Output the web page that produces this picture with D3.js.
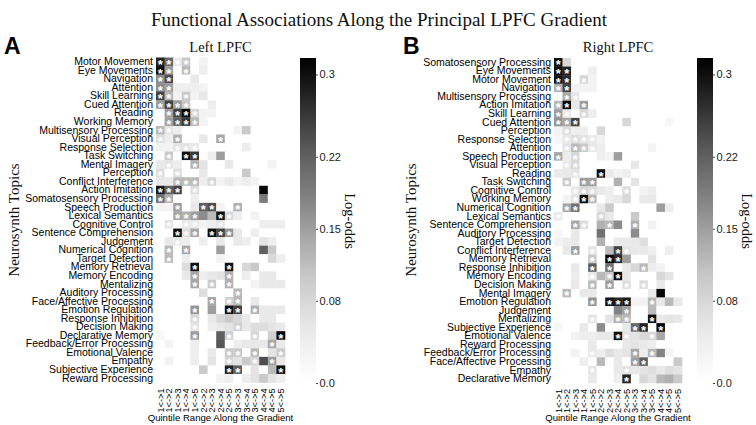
<!DOCTYPE html>
<html><head><meta charset="utf-8">
<script src="https://cdn.jsdelivr.net/npm/d3@7"></script>
<style>body{margin:0;background:#fff}svg{display:block}</style>
</head><body>
<svg id="c" width="756" height="425"></svg>
<script>
const quintileRanges = ["1<->1","1<->2","1<->3","1<->4","1<->5","2<->2","2<->3","2<->4","2<->5","3<->3","3<->4","3<->5","4<->4","4<->5","5<->5"];
const colorbarTicks = [0, 0.08, 0.15, 0.22, 0.3];
const colorbarTickLabels = ["0.0","0.08","0.15","0.22","0.3"];
const logOddsMax = 0.316;

const leftTopics = ["Motor Movement","Eye Movements","Navigation","Attention","Skill Learning","Cued Attention","Reading","Working Memory","Multisensory Processing","Visual Perception","Response Selection","Task Switching","Mental Imagery","Perception","Conflict Interference","Action Imitation","Somatosensory Processing","Speech Production","Lexical Semantics","Cognitive Control","Sentence Comprehension","Judgement","Numerical Cognition","Target Detection","Memory Retrieval","Memory Encoding","Mentalizing","Auditory Processing","Face/Affective Processing","Emotion Regulation","Response Inhibition","Decision Making","Declarative Memory","Feedback/Error Processing","Emotional Valence","Empathy","Subjective Experience","Reward Processing"];
const leftValues = [
[0.28,0.21,0.05,0.10,0,0.03,0,0,0,0,0,0,0,0,0],
[0.30,0.15,0,0.12,0,0.04,0,0,0,0,0,0,0,0,0],
[0.17,0.24,0,0,0.05,0,0,0,0,0,0,0,0,0,0],
[0.17,0.15,0.04,0.04,0.04,0.03,0,0,0,0,0,0,0,0,0],
[0.25,0.12,0.03,0.10,0.03,0.05,0,0,0,0,0,0,0,0,0],
[0.15,0.25,0.15,0.10,0,0,0.04,0,0,0,0,0,0,0,0],
[0,0.15,0.25,0.31,0.08,0.03,0.03,0,0,0,0,0,0,0,0],
[0,0.15,0.22,0.26,0.12,0.03,0,0,0,0,0,0,0,0,0],
[0.12,0.06,0.04,0,0,0,0,0,0,0.03,0.10,0,0,0,0],
[0.07,0.04,0.13,0,0,0.05,0,0.14,0,0,0,0,0,0,0],
[0.03,0.03,0.06,0.06,0.05,0,0,0,0,0,0.04,0,0,0,0],
[0,0.10,0,0.30,0.26,0,0.04,0.15,0,0,0,0,0,0,0],
[0.05,0.06,0.04,0,0.13,0.06,0,0,0.05,0,0,0,0,0.03,0],
[0.07,0,0.07,0,0,0.05,0,0,0,0,0.10,0,0,0,0],
[0.05,0.05,0.12,0.12,0.12,0.04,0.08,0.03,0.05,0.03,0.04,0.03,0,0,0],
[0.29,0.22,0.25,0,0.07,0,0,0,0,0,0,0,0.31,0,0],
[0.20,0.13,0,0,0.04,0,0,0,0,0,0,0,0.19,0,0],
[0.03,0.03,0.15,0,0.05,0.22,0.24,0.03,0,0.13,0,0,0,0,0],
[0,0,0.14,0.13,0.15,0.17,0.12,0.30,0.08,0.04,0,0.03,0,0,0],
[0,0.06,0,0.05,0.05,0.03,0.04,0.06,0,0,0,0,0.04,0.04,0.04],
[0,0,0.30,0.07,0.14,0,0.30,0.25,0.16,0.05,0,0.04,0,0,0],
[0,0.05,0.05,0.04,0,0.04,0,0.05,0,0.05,0.04,0,0.06,0.04,0],
[0,0.12,0,0.14,0,0,0,0.15,0,0,0,0,0.22,0.10,0],
[0,0.12,0,0.04,0,0,0,0.03,0,0,0,0,0,0.08,0.04],
[0,0,0,0.07,0.30,0,0,0,0.30,0,0.08,0.10,0,0,0],
[0,0,0,0.05,0.14,0.04,0.05,0.06,0.13,0,0.04,0,0.05,0.05,0],
[0,0,0,0,0.14,0,0.10,0,0.13,0,0,0.03,0.05,0.05,0.05],
[0,0,0,0,0,0.07,0,0,0,0.12,0,0,0,0,0],
[0,0,0,0,0,0,0.14,0,0.09,0.12,0,0.05,0,0,0],
[0,0,0,0,0.16,0,0.15,0,0.30,0.25,0,0.13,0.05,0.05,0.05],
[0,0,0,0,0.08,0,0.05,0.08,0.10,0.08,0.05,0,0.05,0.05,0],
[0,0,0,0,0.06,0,0.04,0.05,0.06,0.09,0.05,0.07,0.07,0.06,0.05],
[0.02,0,0,0,0.15,0,0,0.22,0.09,0,0,0.08,0,0.09,0.31],
[0,0.03,0,0,0.04,0,0,0.23,0,0.04,0.05,0.05,0.05,0.14,0.05],
[0,0,0,0,0.04,0,0.05,0,0.10,0.10,0,0.12,0,0.06,0.10],
[0,0.03,0,0,0.04,0,0.06,0,0.08,0.06,0.10,0.08,0.24,0.15,0.05],
[0,0,0,0,0,0.10,0,0,0.28,0.22,0,0.06,0,0.12,0.30],
[0,0,0,0,0,0,0,0.03,0.04,0,0.04,0.06,0.10,0.06,0.04]
];
const leftStars = [[0,1,2,3],[0,1,3],[0,1],[0,1],[0,1,3],[0,1,2,3],[1,2,3,4],[1,2,3,4],[0,1],[0,2,7],[2,3,4],[1,3,4],[1,4],[0,2],[2,3,4,6],[0,1,2,4],[0,1],[2,5,6,9],[2,3,4,7,8],[1,3,4,7],[2,3,4,6,7,8],[2],[1,3],[1],[4,8],[4,8],[4,6,8],[9],[6,8,9],[4,8,9,11],[4],[4,9],[4,8,11,14],[13],[8,9,11,14],[8,11,13],[8,9,14],[]];

const rightTopics = ["Somatosensory Processing","Eye Movements","Motor Movement","Navigation","Multisensory Processing","Action Imitation","Skill Learning","Cued Attention","Perception","Response Selection","Attention","Speech Production","Visual Perception","Reading","Task Switching","Cognitive Control","Working Memory","Numerical Cognition","Lexical Semantics","Sentence Comprehension","Auditory Processing","Target Detection","Conflict Interference","Memory Retrieval","Response Inhibition","Memory Encoding","Decision Making","Mental Imagery","Emotion Regulation","Judgement","Mentalizing","Subjective Experience","Emotional Valence","Reward Processing","Feedback/Error Processing","Face/Affective Processing","Empathy","Declarative Memory"];
const rightValues = [
[0.30,0.08,0,0,0,0,0,0,0,0,0,0,0,0,0],
[0.30,0.28,0,0,0.04,0,0,0,0,0,0,0,0,0,0],
[0.30,0.27,0,0.08,0.03,0,0,0,0,0,0,0,0,0,0],
[0.13,0.25,0.03,0.03,0.03,0,0,0,0,0,0,0,0,0,0],
[0,0.14,0.06,0,0,0,0,0,0,0,0,0,0,0,0],
[0.12,0.31,0.05,0.15,0,0,0,0,0,0,0,0,0,0,0],
[0.15,0.05,0,0.08,0.04,0,0,0,0,0,0,0,0,0,0],
[0.16,0.14,0.25,0,0,0,0,0,0.08,0,0,0,0,0.02,0],
[0.03,0.07,0.04,0.04,0,0.08,0,0,0,0,0,0,0,0,0],
[0.02,0.05,0.07,0.06,0.05,0.03,0,0,0,0,0,0,0,0,0],
[0,0.06,0.12,0.10,0.05,0.04,0,0,0,0,0,0.03,0,0,0],
[0.14,0.04,0.08,0,0,0.04,0.03,0.15,0,0,0,0,0,0,0],
[0,0.05,0.08,0,0,0,0,0,0,0.05,0,0,0,0,0],
[0.05,0.05,0.06,0,0,0.30,0.05,0.03,0.04,0,0,0,0,0,0],
[0,0.10,0,0.15,0.15,0,0,0.13,0,0.06,0,0,0,0,0],
[0,0,0.05,0.08,0.07,0.05,0.04,0,0.07,0,0.03,0.04,0,0,0],
[0,0.03,0.06,0.30,0.12,0,0.04,0.05,0.08,0,0.05,0.05,0,0,0],
[0,0.14,0.20,0,0,0.05,0.10,0,0,0,0,0,0.15,0.04,0],
[0.05,0,0,0,0,0.08,0.05,0,0,0.10,0,0,0,0,0],
[0,0,0.14,0.07,0,0.13,0.12,0.17,0,0.13,0,0.03,0,0,0],
[0.02,0,0.05,0,0,0.20,0,0,0,0.17,0,0,0,0,0],
[0.03,0.04,0.05,0,0,0.13,0,0.05,0.05,0.05,0.07,0,0,0,0],
[0,0.05,0.15,0,0.06,0,0.12,0.25,0.06,0.05,0.05,0.04,0,0.04,0],
[0,0,0,0,0.10,0,0.31,0.27,0.15,0,0,0.06,0,0,0],
[0,0,0.05,0,0.22,0,0.20,0,0.05,0.08,0.12,0.04,0.03,0,0],
[0,0,0.04,0,0.05,0.12,0.10,0.31,0.05,0,0,0,0.08,0.06,0],
[0,0,0.05,0,0.12,0,0.15,0,0.07,0,0.07,0,0.05,0,0],
[0,0.12,0,0.05,0.05,0,0,0,0,0,0,0.05,0.31,0,0],
[0,0,0,0,0.16,0,0.30,0.28,0.29,0.03,0.03,0.12,0.05,0.12,0.05],
[0,0,0,0,0,0,0,0.18,0.15,0,0,0.12,0,0,0],
[0,0,0,0,0.06,0,0.06,0.13,0.12,0,0,0.30,0.05,0.06,0.05],
[0.02,0,0,0.05,0,0.17,0,0,0.05,0.21,0.28,0,0.31,0,0],
[0,0,0.03,0.04,0.04,0.05,0.05,0.30,0.06,0.06,0.08,0.08,0.14,0,0],
[0,0,0,0,0.05,0,0,0,0.05,0.06,0.05,0.04,0,0,0],
[0,0,0.03,0,0.05,0.04,0.07,0.05,0.06,0.14,0.04,0.12,0.18,0.03,0],
[0,0,0,0.04,0,0.12,0,0.05,0,0.15,0.22,0,0,0,0.10],
[0,0,0,0,0.06,0,0,0.05,0.06,0.05,0.06,0.07,0.05,0.07,0.06],
[0,0,0,0,0.05,0,0,0.04,0.28,0,0.08,0.06,0.12,0.13,0.10]
];
const rightStars = [[0],[0,1],[0,1,3],[0,1],[1,2],[0,1,3],[0,1,3],[0,1,2],[1],[1,2,3,4],[1,2,3,4],[0,2],[1,2],[2,5],[1,3,4],[2,3,4,8],[2,3,4],[1,2],[0,5],[2,3,6,9],[],[],[2,4,7,8],[4,6,7],[4,6,10],[4,6,7],[4,6,8,10],[1],[4,6,7,8,11],[8],[4,7,8,11],[9,10,12],[7,8,11],[],[4,9,11],[9,10],[4,8],[8]];

const svg = d3.select("#c");
const color = d3.scaleSequential(d3.interpolateGreys).domain([0, logOddsMax]);
const serif = "'Liberation Serif', 'Times New Roman', serif";
const sans = "'Liberation Sans', Arial, sans-serif";

svg.append("text").attr("x", 379).attr("y", 26).attr("text-anchor","middle")
  .attr("font-family", serif).attr("font-size", 19).attr("fill","#111")
  .text("Functional Associations Along the Principal LPFC Gradient");

const panels = [
  {letter:"A", lx:4, title:"Left LPFC", topics:leftTopics, values:leftValues, stars:leftStars, gx:156, gy:57.5, gw:129, gh:325, cbx:300, ytx:14},
  {letter:"B", lx:403, title:"Right LPFC", topics:rightTopics, values:rightValues, stars:rightStars, gx:554, gy:58, gw:128, gh:325, cbx:697, ytx:411}
];

panels.forEach((p, pi) => {
  const g = svg.append("g");
  const x = d3.scaleBand().domain(quintileRanges).range([p.gx, p.gx + p.gw]);
  const y = d3.scaleBand().domain(p.topics).range([p.gy, p.gy + p.gh]);

  g.append("text").attr("x", p.lx).attr("y", 54).attr("font-family", sans).attr("font-weight","bold")
    .attr("font-size", 23).text(p.letter);
  g.append("text").attr("x", p.gx + p.gw/2).attr("y", 52).attr("text-anchor","middle")
    .attr("font-family", serif).attr("font-size", 14.5).attr("fill","#111").text(p.title);

  const cells = [];
  p.values.forEach((row, ri) => row.forEach((v, ci) => cells.push({t:p.topics[ri], q:quintileRanges[ci], v, s:p.stars[ri].includes(ci)})));

  g.selectAll("rect.cell").data(cells).join("rect").attr("class","cell")
    .attr("x", d => x(d.q)).attr("y", d => y(d.t))
    .attr("width", x.bandwidth() + 0.3).attr("height", y.bandwidth() + 0.3)
    .attr("fill", d => color(d.v));

  g.selectAll("text.star").data(cells.filter(d => d.s)).join("text").attr("class","star")
    .attr("x", d => x(d.q) + x.bandwidth()/2).attr("y", d => y(d.t) + y.bandwidth()/2 + 7.2)
    .attr("text-anchor","middle").attr("font-family", sans).attr("font-weight","bold")
    .attr("font-size", 13).attr("fill","#fff").text("*");

  const ya = g.append("g").attr("transform", `translate(${p.gx},0)`)
    .call(d3.axisLeft(y).tickSize(0).tickPadding(3));
  ya.select(".domain").remove();
  ya.selectAll("text").attr("font-family", sans).attr("font-size", 10.5).attr("fill","#000");

  const xa = g.append("g").attr("transform", `translate(0,${p.gy + p.gh})`)
    .call(d3.axisBottom(x).tickSize(0).tickPadding(0));
  xa.select(".domain").remove();
  xa.selectAll(".tick text").attr("font-family", sans).attr("font-size", 9.2).attr("fill","#000")
    .attr("text-anchor","end").attr("dy","0.35em").attr("x", 0).attr("y", 0)
    .attr("transform", "rotate(-90) translate(-6,0)");

  g.append("text").attr("x", p.gx + p.gw/2).attr("y", 421).attr("text-anchor","middle")
    .attr("font-family", sans).attr("font-size", 9.6).attr("fill","#000").text("Quintile Range Along the Gradient");

  g.append("text").attr("transform", `translate(${p.ytx},220) rotate(-90)`).attr("text-anchor","middle")
    .attr("dy","0.35em").attr("font-family", serif).attr("font-size", 15).attr("fill","#111").text("Neurosynth Topics");

  const cy = d3.scaleLinear().domain([0, logOddsMax]).range([383, 58]);
  const gid = "grad" + pi;
  const grad = svg.append("defs").append("linearGradient").attr("id", gid)
    .attr("x1",0).attr("y1",1).attr("x2",0).attr("y2",0);
  d3.range(0, 1.0001, 0.05).forEach(t => grad.append("stop").attr("offset", t).attr("stop-color", color(t*logOddsMax)));
  g.append("rect").attr("x", p.cbx).attr("y", cy(logOddsMax)).attr("width", 16)
    .attr("height", cy(0) - cy(logOddsMax)).attr("fill", `url(#${gid})`);
  const ca = g.append("g").attr("transform", `translate(${p.cbx + 16},0)`)
    .call(d3.axisRight(cy).tickValues(colorbarTicks).tickFormat((d,i) => colorbarTickLabels[i]).tickSize(2).tickPadding(1.5));
  ca.select(".domain").remove();
  ca.selectAll("line").attr("stroke","#444");
  ca.selectAll("text").attr("font-family", sans).attr("font-size", 11).attr("fill","#222");
  g.append("text").attr("transform", `translate(${p.cbx + 50},221) rotate(90)`).attr("text-anchor","middle")
    .attr("dy","0.35em").attr("font-family", serif).attr("font-size", 14.5).attr("fill","#111").text("Log-odds");
});
</script>
</body></html>
